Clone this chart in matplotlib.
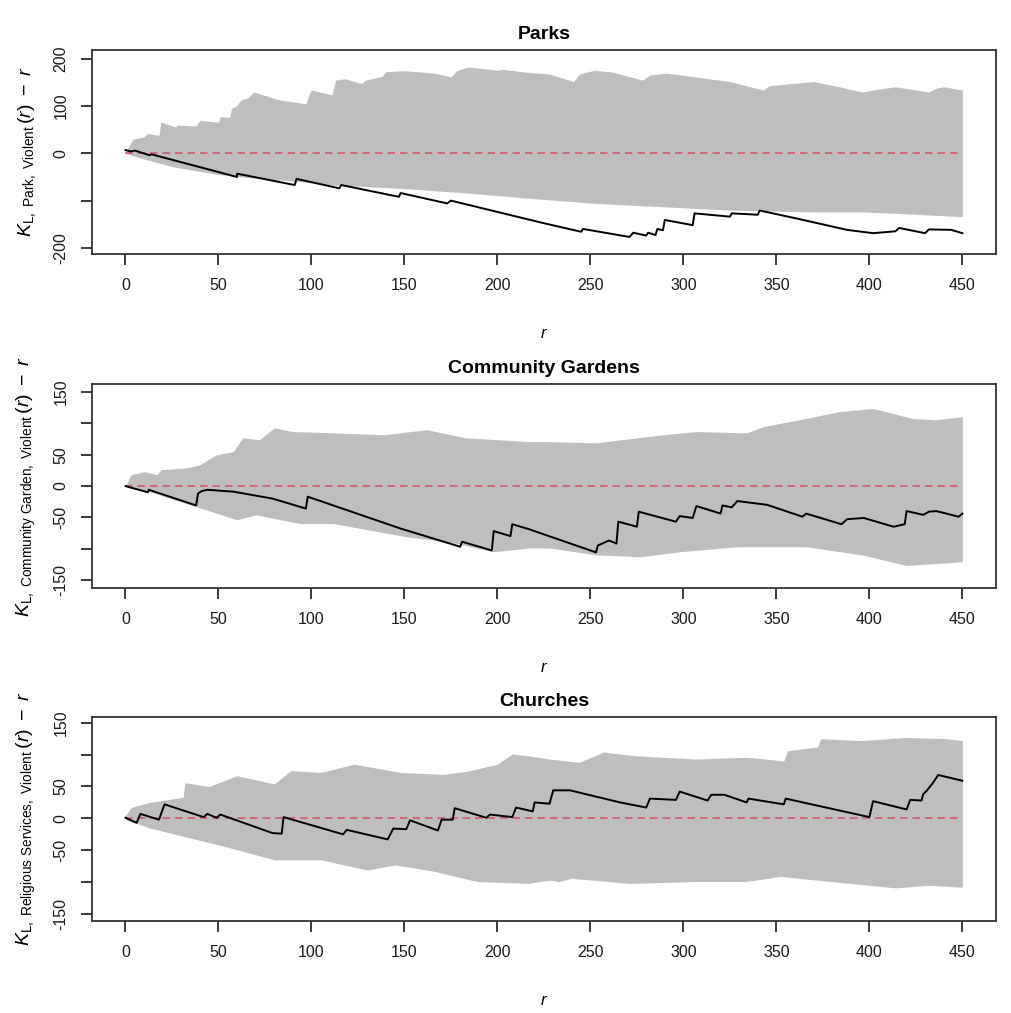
import matplotlib
matplotlib.use("Agg")
import matplotlib.pyplot as plt
import numpy as np

plt.rcParams['font.family'] = ['Liberation Sans', 'DejaVu Sans']
plt.rcParams['mathtext.fontset'] = 'custom'
plt.rcParams['mathtext.rm'] = 'Liberation Sans'
plt.rcParams['mathtext.it'] = 'Liberation Sans:italic'

# ---- Parks ----
parks_env_r = [0, 4, 4, 10, 12, 18, 19, 27, 28, 38, 40, 50, 51, 56, 57, 60, 62, 66, 69, 83, 97, 99, 100,
               111, 113, 118, 127, 129, 138, 140, 150, 166, 175, 178, 184, 200, 203, 215, 228, 241, 244,
               252, 262, 278, 282, 291, 310, 325, 343, 346, 356, 370, 385, 396, 405, 414, 425, 432, 436,
               440, 450]
parks_hi = [3, 12, 30, 35, 42, 38, 66, 56, 60, 58, 70, 66, 78, 76, 95, 102, 113, 118, 130, 113, 105, 128,
            134, 124, 155, 158, 148, 155, 163, 173, 175, 170, 162, 175, 183, 176, 178, 172, 168, 152, 168,
            176, 172, 155, 166, 170, 160, 152, 134, 143, 147, 152, 140, 130, 136, 141, 134, 130, 138, 141,
            134]
parks_lo_r = [0, 10, 25, 50, 63, 94, 112, 148, 184, 217, 253, 289, 325, 370, 396, 414, 450]
parks_lo = [0, -12, -28, -45, -50, -60, -67, -74, -84, -95, -106, -113, -120, -124, -124, -127, -134]
parks_obs_r = [0, 3, 5, 13, 14, 60, 60, 91, 92, 115, 116, 147, 148, 173, 175, 224, 245, 246, 271, 273,
               280, 281, 285, 286, 289, 290, 305, 306, 325, 326, 340, 341, 361, 388, 402, 414, 416, 430,
               432, 444, 450]
parks_obs = [7, 4, 6, -4, -2, -50, -43, -67, -54, -74, -67, -92, -84, -106, -100, -147, -166, -160, -177,
             -168, -174, -168, -173, -160, -163, -141, -152, -127, -134, -127, -130, -121, -138, -162,
             -169, -165, -158, -169, -161, -162, -169]

# ---- Community Gardens ----
garden_hi_r = [0, 3, 10, 17, 19, 33, 40, 49, 58, 63, 72, 80, 90, 112, 139, 162, 183, 217, 228, 253, 289,
               307, 334, 343, 366, 384, 402, 423, 436, 450]
garden_hi = [0, 18, 23, 18, 26, 29, 34, 50, 55, 77, 74, 93, 87, 85, 82, 90, 77, 71, 71, 69, 82, 87, 85,
             95, 108, 119, 124, 108, 106, 111]
garden_lo_r = [0, 13, 38, 60, 70, 94, 112, 151, 175, 198, 217, 228, 253, 277, 298, 329, 366, 396, 420, 450]
garden_lo = [-2, -9, -33, -54, -46, -60, -60, -81, -90, -105, -99, -99, -110, -113, -105, -97, -97, -110,
             -127, -121]
garden_obs_r = [0, 12, 12.5, 38, 39, 41, 44, 58, 79, 97, 98, 148, 180, 181, 197, 198, 207, 208, 217, 253,
                254, 260, 264, 265, 275, 276, 296, 298, 305, 307, 320, 321, 326, 329, 345, 364, 366, 385,
                388, 397, 413, 419, 420, 429, 432, 436, 448, 450]
garden_obs = [0, -10, -6, -31, -12, -8, -6, -9, -20, -36, -17, -68, -97, -89, -103, -72, -80, -61, -69,
              -106, -95, -87, -92, -57, -65, -41, -57, -48, -51, -32, -44, -31, -34, -24, -30, -49, -44,
              -61, -53, -51, -65, -61, -40, -46, -41, -40, -49, -44]

# ---- Churches ----
church_hi_r = [0, 3, 13, 31, 32, 45, 60, 80, 89, 105, 123, 148, 171, 184, 200, 208, 217, 228, 244, 257,
               275, 307, 334, 354, 356, 372, 374, 396, 420, 441, 450]
church_hi = [4, 17, 25, 33, 56, 50, 67, 54, 75, 72, 85, 72, 69, 74, 85, 101, 98, 93, 88, 104, 98, 93, 96,
             90, 106, 112, 125, 122, 127, 125, 122]
church_lo_r = [0, 13, 31, 56, 80, 105, 130, 145, 166, 189, 216, 228, 233, 240, 271, 307, 334, 352, 379,
               414, 432, 450]
church_lo = [-2, -15, -28, -46, -65, -65, -81, -73, -83, -99, -102, -97, -99, -94, -102, -99, -99, -91,
             -99, -109, -105, -108]
church_obs_r = [0, 6, 8, 18, 21, 42, 44, 49, 51, 79, 84, 85, 117, 119, 141, 144, 151, 153, 168, 170, 176,
                177, 194, 196, 208, 210, 219, 220, 228, 230, 239, 266, 280, 282, 296, 298, 313, 315, 322,
                334, 335, 354, 355, 400, 402, 420, 422, 428, 429, 431, 434, 437, 440, 450]
church_obs = [1, -7, 7, -2, 22, 2, 7, 1, 6, -23, -24, 2, -25, -18, -33, -16, -17, -3, -19, -2, -2, 16, 1,
              6, 2, 17, 11, 25, 23, 44, 44, 25, 17, 31, 29, 42, 28, 37, 37, 25, 31, 22, 31, 2, 27, 14, 29,
              28, 38, 44, 55, 68, 66, 59]

panels = [
    ("Parks", "Park", parks_env_r, parks_hi, parks_lo_r, parks_lo, parks_obs_r, parks_obs,
     (-213, 219), [-200, -100, 0, 100, 200], ["-200", "", "0", "100", "200"]),
    ("Community Gardens", "Community\\ Garden", garden_hi_r, garden_hi, garden_lo_r, garden_lo,
     garden_obs_r, garden_obs, (-163, 163),
     [-150, -100, -50, 0, 50, 100, 150], ["-150", "", "-50", "0", "50", "", "150"]),
    ("Churches", "Religious\\ Services", church_hi_r, church_hi, church_lo_r, church_lo,
     church_obs_r, church_obs, (-161, 159),
     [-150, -100, -50, 0, 50, 100, 150], ["-150", "", "-50", "0", "50", "", "150"]),
]

x_ticks = [0, 50, 100, 150, 200, 250, 300, 350, 400, 450]

fig = plt.figure(figsize=(10.11, 10.13), dpi=100)
bottoms = [0.7493, 0.4195, 0.0908]

for (title, sub, hr, hv, lr, lv, orr, ov, ylim, yt, ytl), b in zip(panels, bottoms):
    ax = fig.add_axes([0.091, b, 0.894, 0.2014])
    # put upper and lower edges on one r grid for the shaded envelope
    grid = sorted(set(hr) | set(lr))
    hi = np.interp(grid, hr, hv)
    lo = np.interp(grid, lr, lv)
    ax.fill_between(grid, lo, hi, color="#BEBEBE", linewidth=0)
    ax.plot([0, 450], [0, 0], color="#D45A6E", lw=1.2, dashes=(4.5, 3))
    ax.plot(orr, ov, color="black", lw=1.4)
    ax.set_xlim(-18, 468)
    ax.set_ylim(*ylim)
    ax.set_xticks(x_ticks)
    ax.set_yticks(yt)
    ax.set_yticklabels(ytl, rotation=90, va="center")
    ax.tick_params(direction="out", length=8, width=1.2, labelsize=11.5, pad=9, colors="#1a1a1a")
    for s in ax.spines.values():
        s.set_linewidth(1.3)
        s.set_color("#333333")
    ax.set_title(title, fontsize=14, fontweight="bold", pad=8)
    ax.set_xlabel(r"$r$", fontsize=12)
    ax.xaxis.set_label_coords(0.5, -0.355)
    ax.set_ylabel(r"$K_{\mathrm{L,\ " + sub + r",\ Violent}}\,(r)\ -\ r$", fontsize=14)
    ax.yaxis.set_label_coords(-0.06, 0.5)

fig.savefig("out.png", dpi=100)
